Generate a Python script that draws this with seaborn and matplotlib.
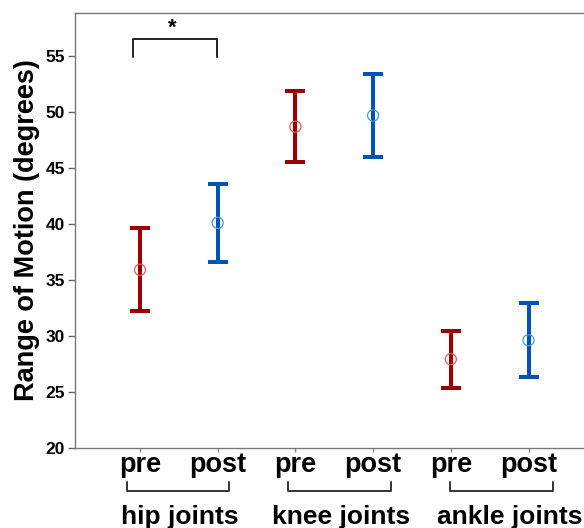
import matplotlib
matplotlib.use('Agg')
import matplotlib.pyplot as plt
import numpy as np
import seaborn as sns
import pandas as pd

sns.set_style('white')
plt.rcParams.update({'font.family': ['Liberation Sans', 'DejaVu Sans'],
                     'font.weight': 'bold',
                     'text.color': 'black',
                     'axes.labelcolor': 'black',
                     'xtick.labelcolor': 'black',
                     'ytick.labelcolor': 'black',
                     'axes.linewidth': 1.0})

joints = ['hip joints', 'knee joints', 'ankle joints']
conds = ['pre', 'post']
rom_mean = [35.9, 40.1, 48.7, 49.7, 27.9, 29.6]
rom_err = [3.7, 3.5, 3.15, 3.7, 2.55, 3.3]

bar_col = {'pre': '#9a0000', 'post': '#0052b4'}
mk_col = {'pre': '#e05a5a', 'post': '#3d9be0'}

df = pd.DataFrame({'joint': np.repeat(joints, 2),
                   'cond': conds * 3,
                   'mean': rom_mean,
                   'err': rom_err})
df['pos'] = np.arange(len(df))

fig = plt.figure(figsize=(5.84, 5.28), dpi=100)
ax = fig.add_axes([75/584, (528-447.5)/528, (600-75)/584, (447.5-13)/528])

for c in conds:
	sub = df[df['cond'] == c]
	ax.errorbar(sub['pos'], sub['mean'], yerr=sub['err'], fmt='none',
				ecolor=bar_col[c], elinewidth=2.9, capsize=7, capthick=2.9, zorder=2)
	sns.scatterplot(data=sub, x='pos', y='mean', ax=ax, marker='o', s=64,
					facecolor='none', edgecolor=mk_col[c], linewidth=0.9, zorder=3)

ax.set_xlim(-(140-75)/77.7, (600-140)/77.7)
ax.set_ylim(20, 58.87)
ax.set_yticks([20, 25, 30, 35, 40, 45, 50, 55])
ax.set_xticks(df['pos'])
ax.set_xticklabels(df['cond'], fontsize=19.5, fontweight='bold')
ax.tick_params(axis='y', labelsize=12.5, length=4.8, width=1, color='#666', pad=2.5, left=True)
ax.tick_params(axis='x', length=3, width=1, color='#888', pad=0, bottom=True)
for s in ax.spines.values():
	s.set_color('#777')
ax.set_xlabel('')
ax.set_ylabel('Range of Motion (degrees)', fontsize=19.5, fontweight='bold', labelpad=4)

# significance bracket
ax.plot([-0.094, -0.094, 0.995, 0.995], [54.9, 56.5, 56.5, 54.9], color='#222', lw=1.4, zorder=4)
ax.text(0.41, 56.6, '*', ha='center', va='bottom', fontsize=16, fontweight='bold')

# group brackets under the axis
tr = ax.get_xaxis_transform()
br_x = [(-0.171, 1.145), (1.909, 3.23), (3.99, 5.32)]
lab_x = [0.511, 2.59, 4.76]
for (x0, x1), lx, name in zip(br_x, lab_x, joints):
	ax.plot([x0, x0, x1, x1], [-0.0787, -0.1001, -0.1001, -0.0787], color='#333',
			lw=1.4, transform=tr, clip_on=False)
	ax.text(lx, -0.175, name, transform=tr, ha='center', va='baseline',
			fontsize=19, fontweight='bold')

plt.savefig('out.png', dpi=100)
